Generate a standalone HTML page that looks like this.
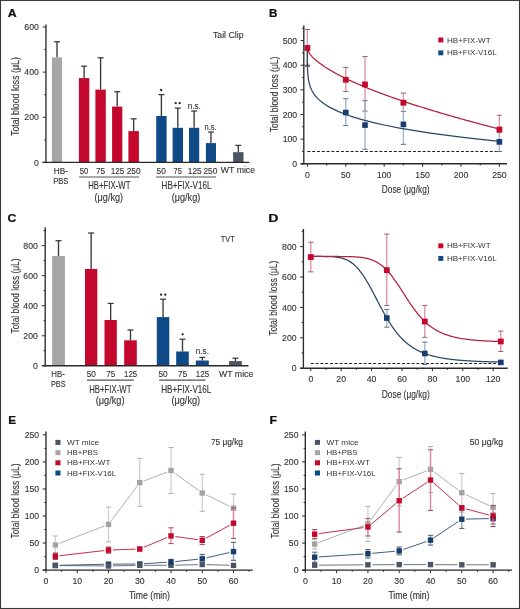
<!DOCTYPE html><html><head><meta charset="utf-8"><style>html,body{margin:0;padding:0;background:#fff;width:520px;height:609px;overflow:hidden;}svg{display:block;font-family:"Liberation Sans",sans-serif;will-change:transform;}</style></head><body>
<svg width="520" height="609" viewBox="0 0 520 609">
<rect x="0" y="0" width="520" height="609" fill="#fff"/>
<text x="7.8" y="17.2" font-size="11.03" fill="#111" font-weight="bold" stroke="#111" stroke-width="0.22" textLength="8.9" lengthAdjust="spacingAndGlyphs">A</text>
<line x1="57" y1="41.8" x2="57" y2="57.4" stroke="#383838" stroke-width="1.35" />
<line x1="54" y1="41.8" x2="60" y2="41.8" stroke="#383838" stroke-width="1.25" />
<rect x="51.9" y="57.4" width="10.2" height="105" fill="#a6a6a6" />
<line x1="84.1" y1="66.2" x2="84.1" y2="78.1" stroke="#383838" stroke-width="1.35" />
<line x1="81.1" y1="66.2" x2="87.1" y2="66.2" stroke="#383838" stroke-width="1.25" />
<rect x="78.9" y="78.1" width="10.4" height="84.3" fill="#c3072d" />
<line x1="100.6" y1="57.8" x2="100.6" y2="89.6" stroke="#383838" stroke-width="1.35" />
<line x1="97.6" y1="57.8" x2="103.6" y2="57.8" stroke="#383838" stroke-width="1.25" />
<rect x="95.4" y="89.6" width="10.4" height="72.8" fill="#c3072d" />
<line x1="117.2" y1="91.7" x2="117.2" y2="106.6" stroke="#383838" stroke-width="1.35" />
<line x1="114.2" y1="91.7" x2="120.2" y2="91.7" stroke="#383838" stroke-width="1.25" />
<rect x="112.1" y="106.6" width="10.2" height="55.8" fill="#c3072d" />
<line x1="133.65" y1="118.8" x2="133.65" y2="131.1" stroke="#383838" stroke-width="1.35" />
<line x1="130.65" y1="118.8" x2="136.65" y2="118.8" stroke="#383838" stroke-width="1.25" />
<rect x="128.4" y="131.1" width="10.5" height="31.3" fill="#c3072d" />
<line x1="161.4" y1="94.6" x2="161.4" y2="116" stroke="#383838" stroke-width="1.35" />
<line x1="158.4" y1="94.6" x2="164.4" y2="94.6" stroke="#383838" stroke-width="1.25" />
<rect x="156.2" y="116" width="10.4" height="46.4" fill="#0d4a87" />
<line x1="177.8" y1="108.1" x2="177.8" y2="127.8" stroke="#383838" stroke-width="1.35" />
<line x1="174.8" y1="108.1" x2="180.8" y2="108.1" stroke="#383838" stroke-width="1.25" />
<rect x="172.6" y="127.8" width="10.4" height="34.6" fill="#0d4a87" />
<line x1="194.1" y1="111" x2="194.1" y2="127.8" stroke="#383838" stroke-width="1.35" />
<line x1="191.1" y1="111" x2="197.1" y2="111" stroke="#383838" stroke-width="1.25" />
<rect x="189" y="127.8" width="10.2" height="34.6" fill="#0d4a87" />
<line x1="210.95" y1="132" x2="210.95" y2="143.1" stroke="#383838" stroke-width="1.35" />
<line x1="207.95" y1="132" x2="213.95" y2="132" stroke="#383838" stroke-width="1.25" />
<rect x="205.9" y="143.1" width="10.1" height="19.3" fill="#0d4a87" />
<line x1="238.3" y1="145.4" x2="238.3" y2="152.2" stroke="#383838" stroke-width="1.35" />
<line x1="235.3" y1="145.4" x2="241.3" y2="145.4" stroke="#383838" stroke-width="1.25" />
<rect x="233.1" y="152.2" width="10.4" height="10.2" fill="#4b5564" />
<line x1="45.95" y1="24.5" x2="45.95" y2="163" stroke="#2a2a2a" stroke-width="1.35" />
<line x1="42.65" y1="162.4" x2="45.95" y2="162.4" stroke="#2a2a2a" stroke-width="1" />
<text x="38.8" y="165.5" font-size="8.7" text-anchor="end" fill="#333" font-weight="normal" stroke="#333" stroke-width="0.12" >0</text>
<line x1="42.65" y1="117.26" x2="45.95" y2="117.26" stroke="#2a2a2a" stroke-width="1" />
<text x="38.8" y="120.36" font-size="8.7" text-anchor="end" fill="#333" font-weight="normal" stroke="#333" stroke-width="0.12" >200</text>
<line x1="42.65" y1="72.12" x2="45.95" y2="72.12" stroke="#2a2a2a" stroke-width="1" />
<text x="38.8" y="75.22" font-size="8.7" text-anchor="end" fill="#333" font-weight="normal" stroke="#333" stroke-width="0.12" >400</text>
<line x1="42.65" y1="26.98" x2="45.95" y2="26.98" stroke="#2a2a2a" stroke-width="1" />
<text x="38.8" y="30.08" font-size="8.7" text-anchor="end" fill="#333" font-weight="normal" stroke="#333" stroke-width="0.12" >600</text>
<line x1="44.25" y1="139.83" x2="45.95" y2="139.83" stroke="#2a2a2a" stroke-width="1" />
<line x1="44.25" y1="94.69" x2="45.95" y2="94.69" stroke="#2a2a2a" stroke-width="1" />
<line x1="44.25" y1="49.55" x2="45.95" y2="49.55" stroke="#2a2a2a" stroke-width="1" />
<line x1="42.4" y1="162.4" x2="249.4" y2="162.4" stroke="#2a2a2a" stroke-width="1.4" />
<circle cx="161.2" cy="90" r="1.15" fill="#222"/>
<circle cx="175.7" cy="103.2" r="1.15" fill="#222"/>
<circle cx="179.7" cy="103.2" r="1.15" fill="#222"/>
<text x="187.7" y="108.5" font-size="8.7" text-anchor="start" fill="#333" font-weight="normal" textLength="13.2" lengthAdjust="spacingAndGlyphs" stroke="#333" stroke-width="0.12" >n.s.</text>
<text x="204.5" y="129.8" font-size="8.7" text-anchor="start" fill="#333" font-weight="normal" textLength="12.1" lengthAdjust="spacingAndGlyphs" stroke="#333" stroke-width="0.12" >n.s.</text>
<text x="53.7" y="173.6" font-size="9" text-anchor="start" fill="#333" font-weight="normal" textLength="14.2" lengthAdjust="spacingAndGlyphs" stroke="#333" stroke-width="0.12" >HB-</text>
<text x="53.2" y="183.8" font-size="9" text-anchor="start" fill="#333" font-weight="normal" textLength="15.2" lengthAdjust="spacingAndGlyphs" stroke="#333" stroke-width="0.12" >PBS</text>
<text x="79.8" y="173.7" font-size="9.3" text-anchor="start" fill="#333" font-weight="normal" textLength="8.6" lengthAdjust="spacingAndGlyphs" stroke="#333" stroke-width="0.12" >50</text>
<text x="96" y="173.7" font-size="9.3" text-anchor="start" fill="#333" font-weight="normal" textLength="9.2" lengthAdjust="spacingAndGlyphs" stroke="#333" stroke-width="0.12" >75</text>
<text x="110.8" y="173.7" font-size="9.3" text-anchor="start" fill="#333" font-weight="normal" textLength="13.6" lengthAdjust="spacingAndGlyphs" stroke="#333" stroke-width="0.12" >125</text>
<text x="126.7" y="173.7" font-size="9.3" text-anchor="start" fill="#333" font-weight="normal" textLength="14" lengthAdjust="spacingAndGlyphs" stroke="#333" stroke-width="0.12" >250</text>
<text x="156.5" y="173.7" font-size="9.3" text-anchor="start" fill="#333" font-weight="normal" textLength="9.3" lengthAdjust="spacingAndGlyphs" stroke="#333" stroke-width="0.12" >50</text>
<text x="173.5" y="173.7" font-size="9.3" text-anchor="start" fill="#333" font-weight="normal" textLength="8.4" lengthAdjust="spacingAndGlyphs" stroke="#333" stroke-width="0.12" >75</text>
<text x="187.8" y="173.7" font-size="9.3" text-anchor="start" fill="#333" font-weight="normal" textLength="13.8" lengthAdjust="spacingAndGlyphs" stroke="#333" stroke-width="0.12" >125</text>
<text x="203.5" y="173.7" font-size="9.3" text-anchor="start" fill="#333" font-weight="normal" textLength="13.8" lengthAdjust="spacingAndGlyphs" stroke="#333" stroke-width="0.12" >250</text>
<line x1="79" y1="177" x2="139" y2="177" stroke="#555" stroke-width="1.2" />
<line x1="156" y1="177" x2="216.1" y2="177" stroke="#555" stroke-width="1.2" />
<text x="88.2" y="189.2" font-size="10.2" text-anchor="start" fill="#333" font-weight="normal" textLength="42.2" lengthAdjust="spacingAndGlyphs" stroke="#333" stroke-width="0.12" >HB+FIX-WT</text>
<text x="161.6" y="189.4" font-size="10.2" text-anchor="start" fill="#333" font-weight="normal" textLength="49.8" lengthAdjust="spacingAndGlyphs" stroke="#333" stroke-width="0.12" >HB+FIX-V16L</text>
<text x="94.6" y="201.4" font-size="10.2" text-anchor="start" fill="#333" font-weight="normal" textLength="28.5" lengthAdjust="spacingAndGlyphs" stroke="#333" stroke-width="0.12" >(μg/kg)</text>
<text x="171.7" y="201.4" font-size="10.2" text-anchor="start" fill="#333" font-weight="normal" textLength="28.6" lengthAdjust="spacingAndGlyphs" stroke="#333" stroke-width="0.12" >(μg/kg)</text>
<text x="220.8" y="172.9" font-size="8.7" text-anchor="start" fill="#333" font-weight="normal" textLength="34.3" lengthAdjust="spacingAndGlyphs" stroke="#333" stroke-width="0.12" >WT mice</text>
<text x="212.9" y="38.2" font-size="9.3" text-anchor="start" fill="#333" font-weight="normal" textLength="30.7" lengthAdjust="spacingAndGlyphs" stroke="#333" stroke-width="0.12" >Tail Clip</text>
<text transform="translate(19,96.6) rotate(-90)" x="0" y="0" font-size="10.2" text-anchor="middle" fill="#333" textLength="78.8" lengthAdjust="spacingAndGlyphs" stroke="#333" stroke-width="0.12">Total blood loss (μL)</text>
<text x="269" y="17.3" font-size="11.45" fill="#111" font-weight="bold" stroke="#111" stroke-width="0.22" textLength="8.4" lengthAdjust="spacingAndGlyphs">B</text>
<line x1="307.4" y1="151.5" x2="501" y2="151.5" stroke="#222" stroke-width="1" stroke-dasharray="3 1.8"/>
<line x1="307.4" y1="29.46" x2="307.4" y2="66.43" stroke="#dc8ea6" stroke-width="1.3" />
<line x1="304.8" y1="29.46" x2="310" y2="29.46" stroke="#8c6574" stroke-width="1.0" />
<line x1="304.8" y1="66.43" x2="310" y2="66.43" stroke="#8c6574" stroke-width="1.0" />
<line x1="345.8" y1="67.42" x2="345.8" y2="91.58" stroke="#dc8ea6" stroke-width="1.3" />
<line x1="343.2" y1="67.42" x2="348.4" y2="67.42" stroke="#8c6574" stroke-width="1.0" />
<line x1="343.2" y1="91.58" x2="348.4" y2="91.58" stroke="#8c6574" stroke-width="1.0" />
<line x1="365" y1="56.57" x2="365" y2="111.05" stroke="#dc8ea6" stroke-width="1.3" />
<line x1="362.4" y1="56.57" x2="367.6" y2="56.57" stroke="#8c6574" stroke-width="1.0" />
<line x1="362.4" y1="111.05" x2="367.6" y2="111.05" stroke="#8c6574" stroke-width="1.0" />
<line x1="403.4" y1="93.05" x2="403.4" y2="111.54" stroke="#dc8ea6" stroke-width="1.3" />
<line x1="400.8" y1="93.05" x2="406" y2="93.05" stroke="#8c6574" stroke-width="1.0" />
<line x1="400.8" y1="111.54" x2="406" y2="111.54" stroke="#8c6574" stroke-width="1.0" />
<line x1="499.4" y1="115.24" x2="499.4" y2="143.83" stroke="#dc8ea6" stroke-width="1.3" />
<line x1="496.8" y1="115.24" x2="502" y2="115.24" stroke="#8c6574" stroke-width="1.0" />
<line x1="496.8" y1="143.83" x2="502" y2="143.83" stroke="#8c6574" stroke-width="1.0" />
<line x1="345.8" y1="98.72" x2="345.8" y2="125.59" stroke="#9fb0c8" stroke-width="1.3" />
<line x1="343.2" y1="98.72" x2="348.4" y2="98.72" stroke="#5f7089" stroke-width="1.0" />
<line x1="343.2" y1="125.59" x2="348.4" y2="125.59" stroke="#5f7089" stroke-width="1.0" />
<line x1="365" y1="100.7" x2="365" y2="149.26" stroke="#9fb0c8" stroke-width="1.3" />
<line x1="362.4" y1="100.7" x2="367.6" y2="100.7" stroke="#5f7089" stroke-width="1.0" />
<line x1="362.4" y1="149.26" x2="367.6" y2="149.26" stroke="#5f7089" stroke-width="1.0" />
<line x1="403.4" y1="104.64" x2="403.4" y2="144.33" stroke="#9fb0c8" stroke-width="1.3" />
<line x1="400.8" y1="104.64" x2="406" y2="104.64" stroke="#5f7089" stroke-width="1.0" />
<line x1="400.8" y1="144.33" x2="406" y2="144.33" stroke="#5f7089" stroke-width="1.0" />
<line x1="499.4" y1="132.25" x2="499.4" y2="151.48" stroke="#9fb0c8" stroke-width="1.3" />
<line x1="496.8" y1="132.25" x2="502" y2="132.25" stroke="#5f7089" stroke-width="1.0" />
<line x1="496.8" y1="151.48" x2="502" y2="151.48" stroke="#5f7089" stroke-width="1.0" />
<line x1="307.4" y1="47.95" x2="307.4" y2="65.2" stroke="#59667a" stroke-width="1.2" />
<line x1="304.7" y1="65.2" x2="310.1" y2="65.2" stroke="#4a4f5a" stroke-width="1.1" />
<path d="M307.4,47.95 L308.17,50.89 L308.94,52.4 L309.7,53.61 L310.47,54.67 L311.24,55.62 L312.01,56.5 L312.78,57.32 L313.54,58.09 L314.31,58.82 L315.08,59.52 L315.85,60.19 L316.62,60.84 L317.38,61.46 L318.15,62.07 L318.92,62.65 L319.69,63.22 L320.46,63.78 L321.22,64.32 L321.99,64.85 L322.76,65.37 L323.53,65.9 L324.3,66.42 L325.06,66.94 L325.83,67.44 L326.6,67.94 L327.37,68.42 L328.14,68.9 L328.9,69.38 L329.67,69.84 L330.44,70.31 L331.21,70.76 L331.98,71.21 L332.74,71.65 L333.51,72.09 L334.28,72.52 L335.05,72.95 L335.82,73.37 L336.58,73.79 L337.35,74.2 L338.12,74.61 L338.89,75.02 L339.66,75.42 L340.42,75.82 L341.19,76.21 L341.96,76.6 L342.73,76.99 L343.5,77.37 L344.26,77.75 L345.03,78.13 L345.8,78.5 L346.57,78.88 L347.34,79.24 L348.1,79.61 L348.87,79.97 L349.64,80.33 L350.41,80.69 L351.18,81.04 L351.94,81.4 L352.71,81.75 L353.48,82.09 L354.25,82.44 L355.02,82.78 L355.78,83.12 L356.55,83.46 L357.32,83.8 L358.09,84.13 L358.86,84.47 L359.62,84.8 L360.39,85.13 L361.16,85.45 L361.93,85.78 L362.7,86.1 L363.46,86.42 L364.23,86.74 L365,87.06 L365.77,87.37 L366.54,87.69 L367.3,88 L368.07,88.31 L368.84,88.62 L369.61,88.93 L370.38,89.24 L371.14,89.54 L371.91,89.85 L372.68,90.15 L373.45,90.45 L374.22,90.75 L374.98,91.05 L375.75,91.34 L376.52,91.64 L377.29,91.93 L378.06,92.22 L378.82,92.52 L379.59,92.81 L380.36,93.09 L381.13,93.38 L381.9,93.67 L382.66,93.95 L383.43,94.24 L384.2,94.52 L384.97,94.8 L385.74,95.08 L386.5,95.36 L387.27,95.64 L388.04,95.92 L388.81,96.2 L389.58,96.47 L390.34,96.75 L391.11,97.02 L391.88,97.29 L392.65,97.56 L393.42,97.83 L394.18,98.1 L394.95,98.37 L395.72,98.64 L396.49,98.91 L397.26,99.17 L398.02,99.44 L398.79,99.7 L399.56,99.96 L400.33,100.23 L401.1,100.49 L401.86,100.75 L402.63,101.01 L403.4,101.27 L404.17,101.52 L404.94,101.78 L405.7,102.04 L406.47,102.29 L407.24,102.55 L408.01,102.8 L408.78,103.05 L409.54,103.31 L410.31,103.56 L411.08,103.81 L411.85,104.06 L412.62,104.31 L413.38,104.56 L414.15,104.81 L414.92,105.05 L415.69,105.3 L416.46,105.55 L417.22,105.79 L417.99,106.03 L418.76,106.28 L419.53,106.52 L420.3,106.76 L421.06,107.01 L421.83,107.25 L422.6,107.49 L423.37,107.73 L424.14,107.97 L424.9,108.21 L425.67,108.44 L426.44,108.68 L427.21,108.92 L427.98,109.15 L428.74,109.39 L429.51,109.62 L430.28,109.86 L431.05,110.09 L431.82,110.33 L432.58,110.56 L433.35,110.79 L434.12,111.02 L434.89,111.25 L435.66,111.48 L436.42,111.71 L437.19,111.94 L437.96,112.17 L438.73,112.4 L439.5,112.63 L440.26,112.85 L441.03,113.08 L441.8,113.31 L442.57,113.53 L443.34,113.76 L444.1,113.98 L444.87,114.2 L445.64,114.43 L446.41,114.65 L447.18,114.87 L447.94,115.1 L448.71,115.32 L449.48,115.54 L450.25,115.76 L451.02,115.98 L451.78,116.2 L452.55,116.42 L453.32,116.64 L454.09,116.86 L454.86,117.07 L455.62,117.29 L456.39,117.51 L457.16,117.72 L457.93,117.94 L458.7,118.16 L459.46,118.37 L460.23,118.59 L461,118.8 L461.77,119.01 L462.54,119.23 L463.3,119.44 L464.07,119.65 L464.84,119.86 L465.61,120.08 L466.38,120.29 L467.14,120.5 L467.91,120.71 L468.68,120.92 L469.45,121.13 L470.22,121.34 L470.98,121.55 L471.75,121.76 L472.52,121.96 L473.29,122.17 L474.06,122.38 L474.82,122.59 L475.59,122.79 L476.36,123 L477.13,123.2 L477.9,123.41 L478.66,123.62 L479.43,123.82 L480.2,124.02 L480.97,124.23 L481.74,124.43 L482.5,124.64 L483.27,124.84 L484.04,125.04 L484.81,125.24 L485.58,125.45 L486.34,125.65 L487.11,125.85 L487.88,126.05 L488.65,126.25 L489.42,126.45 L490.18,126.65 L490.95,126.85 L491.72,127.05 L492.49,127.25 L493.26,127.45 L494.02,127.64 L494.79,127.84 L495.56,128.04 L496.33,128.24 L497.1,128.43 L497.86,128.63 L498.63,128.83 L499.4,129.02" fill="none" stroke="#b3223d" stroke-width="1.25" />
<path d="M307.4,47.95 L307.41,59.15 L307.42,62.06 L307.45,64.27 L307.48,66.12 L307.55,68.97 L307.63,70.83 L307.78,73.42 L307.98,75.68 L308.17,77.4 L308.55,80.01 L308.94,82 L309.7,85 L310.47,87.29 L311.24,89.16 L312.01,90.74 L313.54,93.37 L315.08,95.51 L316.62,97.32 L318.92,99.63 L322.76,102.75 L326.6,105.4 L330.44,107.67 L338.12,111.42 L345.8,114.48 L353.48,117.1 L361.16,119.39 L368.84,121.44 L376.52,123.29 L384.2,124.99 L399.56,128.02 L414.92,130.67 L430.28,133.03 L445.64,135.18 L461,137.14 L476.36,138.95 L499.4,141.44" fill="none" stroke="#2c4664" stroke-width="1.25" />
<rect x="304.5" y="45.05" width="5.8" height="5.8" fill="#c3072d" />
<rect x="342.9" y="76.84" width="5.8" height="5.8" fill="#c3072d" />
<rect x="362.1" y="81.53" width="5.8" height="5.8" fill="#c3072d" />
<rect x="400.5" y="99.77" width="5.8" height="5.8" fill="#c3072d" />
<rect x="496.5" y="126.64" width="5.8" height="5.8" fill="#c3072d" />
<rect x="343" y="109.73" width="5.6" height="5.6" fill="#173d70" />
<rect x="362.2" y="122.3" width="5.6" height="5.6" fill="#173d70" />
<rect x="400.6" y="121.56" width="5.6" height="5.6" fill="#173d70" />
<rect x="496.6" y="139.06" width="5.6" height="5.6" fill="#173d70" />
<line x1="303.8" y1="25.6" x2="303.8" y2="164.4" stroke="#2a2a2a" stroke-width="1.35" />
<line x1="300.5" y1="163.8" x2="303.8" y2="163.8" stroke="#2a2a2a" stroke-width="1" />
<text x="297.2" y="166.9" font-size="8.7" text-anchor="end" fill="#333" font-weight="normal" stroke="#333" stroke-width="0.12" >0</text>
<line x1="300.5" y1="139.15" x2="303.8" y2="139.15" stroke="#2a2a2a" stroke-width="1" />
<text x="297.2" y="142.25" font-size="8.7" text-anchor="end" fill="#333" font-weight="normal" stroke="#333" stroke-width="0.12" >100</text>
<line x1="300.5" y1="114.5" x2="303.8" y2="114.5" stroke="#2a2a2a" stroke-width="1" />
<text x="297.2" y="117.6" font-size="8.7" text-anchor="end" fill="#333" font-weight="normal" stroke="#333" stroke-width="0.12" >200</text>
<line x1="300.5" y1="89.85" x2="303.8" y2="89.85" stroke="#2a2a2a" stroke-width="1" />
<text x="297.2" y="92.95" font-size="8.7" text-anchor="end" fill="#333" font-weight="normal" stroke="#333" stroke-width="0.12" >300</text>
<line x1="300.5" y1="65.2" x2="303.8" y2="65.2" stroke="#2a2a2a" stroke-width="1" />
<text x="297.2" y="68.3" font-size="8.7" text-anchor="end" fill="#333" font-weight="normal" stroke="#333" stroke-width="0.12" >400</text>
<line x1="300.5" y1="40.55" x2="303.8" y2="40.55" stroke="#2a2a2a" stroke-width="1" />
<text x="297.2" y="43.65" font-size="8.7" text-anchor="end" fill="#333" font-weight="normal" stroke="#333" stroke-width="0.12" >500</text>
<line x1="302.1" y1="151.48" x2="303.8" y2="151.48" stroke="#2a2a2a" stroke-width="1" />
<line x1="302.1" y1="126.83" x2="303.8" y2="126.83" stroke="#2a2a2a" stroke-width="1" />
<line x1="302.1" y1="102.18" x2="303.8" y2="102.18" stroke="#2a2a2a" stroke-width="1" />
<line x1="302.1" y1="77.53" x2="303.8" y2="77.53" stroke="#2a2a2a" stroke-width="1" />
<line x1="302.1" y1="52.88" x2="303.8" y2="52.88" stroke="#2a2a2a" stroke-width="1" />
<line x1="302.1" y1="28.23" x2="303.8" y2="28.23" stroke="#2a2a2a" stroke-width="1" />
<line x1="300.6" y1="163.8" x2="507" y2="163.8" stroke="#2a2a2a" stroke-width="1.4" />
<line x1="307.4" y1="163.8" x2="307.4" y2="166.8" stroke="#2a2a2a" stroke-width="1" />
<text x="307.4" y="177.8" font-size="8.7" text-anchor="middle" fill="#333" font-weight="normal" stroke="#333" stroke-width="0.12" >0</text>
<line x1="345.8" y1="163.8" x2="345.8" y2="166.8" stroke="#2a2a2a" stroke-width="1" />
<text x="345.8" y="177.8" font-size="8.7" text-anchor="middle" fill="#333" font-weight="normal" stroke="#333" stroke-width="0.12" >50</text>
<line x1="384.2" y1="163.8" x2="384.2" y2="166.8" stroke="#2a2a2a" stroke-width="1" />
<text x="384.2" y="177.8" font-size="8.7" text-anchor="middle" fill="#333" font-weight="normal" stroke="#333" stroke-width="0.12" >100</text>
<line x1="422.6" y1="163.8" x2="422.6" y2="166.8" stroke="#2a2a2a" stroke-width="1" />
<text x="422.6" y="177.8" font-size="8.7" text-anchor="middle" fill="#333" font-weight="normal" stroke="#333" stroke-width="0.12" >150</text>
<line x1="461" y1="163.8" x2="461" y2="166.8" stroke="#2a2a2a" stroke-width="1" />
<text x="461" y="177.8" font-size="8.7" text-anchor="middle" fill="#333" font-weight="normal" stroke="#333" stroke-width="0.12" >200</text>
<line x1="499.4" y1="163.8" x2="499.4" y2="166.8" stroke="#2a2a2a" stroke-width="1" />
<text x="499.4" y="177.8" font-size="8.7" text-anchor="middle" fill="#333" font-weight="normal" stroke="#333" stroke-width="0.12" >250</text>
<line x1="326.6" y1="163.8" x2="326.6" y2="165.5" stroke="#2a2a2a" stroke-width="1" />
<line x1="365" y1="163.8" x2="365" y2="165.5" stroke="#2a2a2a" stroke-width="1" />
<line x1="403.4" y1="163.8" x2="403.4" y2="165.5" stroke="#2a2a2a" stroke-width="1" />
<line x1="441.8" y1="163.8" x2="441.8" y2="165.5" stroke="#2a2a2a" stroke-width="1" />
<line x1="480.2" y1="163.8" x2="480.2" y2="165.5" stroke="#2a2a2a" stroke-width="1" />
<text x="381.8" y="192.6" font-size="10.5" text-anchor="start" fill="#333" font-weight="normal" textLength="47.8" lengthAdjust="spacingAndGlyphs" stroke="#333" stroke-width="0.12" >Dose (μg/kg)</text>
<text transform="translate(277.5,94.5) rotate(-90)" x="0" y="0" font-size="10.2" text-anchor="middle" fill="#333" textLength="75.5" lengthAdjust="spacingAndGlyphs" stroke="#333" stroke-width="0.12">Total blood loss (μL)</text>
<rect x="438.3" y="37.5" width="5" height="4.9" fill="#c3072d" />
<text x="447" y="42.6" font-size="7.7" text-anchor="start" fill="#333" font-weight="normal" textLength="43.6" lengthAdjust="spacingAndGlyphs" >HB+FIX-WT</text>
<rect x="438.3" y="50.4" width="5" height="4.9" fill="#0d4a87" />
<text x="447" y="55.3" font-size="7.7" text-anchor="start" fill="#333" font-weight="normal" textLength="49.6" lengthAdjust="spacingAndGlyphs" >HB+FIX-V16L</text>
<text x="7.6" y="222.1" font-size="11.17" fill="#111" font-weight="bold" stroke="#111" stroke-width="0.22" textLength="8.8" lengthAdjust="spacingAndGlyphs">C</text>
<line x1="58.5" y1="240.7" x2="58.5" y2="256" stroke="#383838" stroke-width="1.35" />
<line x1="55.5" y1="240.7" x2="61.5" y2="240.7" stroke="#383838" stroke-width="1.25" />
<rect x="52.1" y="256" width="12.8" height="109.8" fill="#a6a6a6" />
<line x1="91.15" y1="233" x2="91.15" y2="269" stroke="#383838" stroke-width="1.35" />
<line x1="88.15" y1="233" x2="94.15" y2="233" stroke="#383838" stroke-width="1.25" />
<rect x="85" y="269" width="12.3" height="96.8" fill="#c3072d" />
<line x1="110.65" y1="303.4" x2="110.65" y2="320" stroke="#383838" stroke-width="1.35" />
<line x1="107.65" y1="303.4" x2="113.65" y2="303.4" stroke="#383838" stroke-width="1.25" />
<rect x="104.5" y="320" width="12.3" height="45.8" fill="#c3072d" />
<line x1="130.5" y1="330" x2="130.5" y2="340.3" stroke="#383838" stroke-width="1.35" />
<line x1="127.5" y1="330" x2="133.5" y2="330" stroke="#383838" stroke-width="1.25" />
<rect x="124.2" y="340.3" width="12.6" height="25.5" fill="#c3072d" />
<line x1="163.05" y1="299.2" x2="163.05" y2="317.1" stroke="#383838" stroke-width="1.35" />
<line x1="160.05" y1="299.2" x2="166.05" y2="299.2" stroke="#383838" stroke-width="1.25" />
<rect x="156.8" y="317.1" width="12.5" height="48.7" fill="#0d4a87" />
<line x1="182.5" y1="339.2" x2="182.5" y2="351.5" stroke="#383838" stroke-width="1.35" />
<line x1="179.5" y1="339.2" x2="185.5" y2="339.2" stroke="#383838" stroke-width="1.25" />
<rect x="176.2" y="351.5" width="12.6" height="14.3" fill="#0d4a87" />
<line x1="202.3" y1="357.4" x2="202.3" y2="360.5" stroke="#383838" stroke-width="1.35" />
<line x1="199.3" y1="357.4" x2="205.3" y2="357.4" stroke="#383838" stroke-width="1.25" />
<rect x="195.8" y="360.5" width="13" height="5.3" fill="#0d4a87" />
<line x1="235.45" y1="358.2" x2="235.45" y2="361.1" stroke="#383838" stroke-width="1.35" />
<line x1="232.45" y1="358.2" x2="238.45" y2="358.2" stroke="#383838" stroke-width="1.25" />
<rect x="229.1" y="361.1" width="12.7" height="4.7" fill="#4b5564" />
<line x1="45.2" y1="227.2" x2="45.2" y2="366.4" stroke="#2a2a2a" stroke-width="1.35" />
<line x1="41.9" y1="365.8" x2="45.2" y2="365.8" stroke="#2a2a2a" stroke-width="1" />
<text x="37.8" y="368.9" font-size="8.7" text-anchor="end" fill="#333" font-weight="normal" stroke="#333" stroke-width="0.12" >0</text>
<line x1="41.9" y1="335.75" x2="45.2" y2="335.75" stroke="#2a2a2a" stroke-width="1" />
<text x="37.8" y="338.85" font-size="8.7" text-anchor="end" fill="#333" font-weight="normal" stroke="#333" stroke-width="0.12" >200</text>
<line x1="41.9" y1="305.7" x2="45.2" y2="305.7" stroke="#2a2a2a" stroke-width="1" />
<text x="37.8" y="308.8" font-size="8.7" text-anchor="end" fill="#333" font-weight="normal" stroke="#333" stroke-width="0.12" >400</text>
<line x1="41.9" y1="275.65" x2="45.2" y2="275.65" stroke="#2a2a2a" stroke-width="1" />
<text x="37.8" y="278.75" font-size="8.7" text-anchor="end" fill="#333" font-weight="normal" stroke="#333" stroke-width="0.12" >600</text>
<line x1="41.9" y1="245.6" x2="45.2" y2="245.6" stroke="#2a2a2a" stroke-width="1" />
<text x="37.8" y="248.7" font-size="8.7" text-anchor="end" fill="#333" font-weight="normal" stroke="#333" stroke-width="0.12" >800</text>
<line x1="43.5" y1="350.78" x2="45.2" y2="350.78" stroke="#2a2a2a" stroke-width="1" />
<line x1="43.5" y1="320.73" x2="45.2" y2="320.73" stroke="#2a2a2a" stroke-width="1" />
<line x1="43.5" y1="290.68" x2="45.2" y2="290.68" stroke="#2a2a2a" stroke-width="1" />
<line x1="43.5" y1="260.62" x2="45.2" y2="260.62" stroke="#2a2a2a" stroke-width="1" />
<line x1="43.5" y1="230.58" x2="45.2" y2="230.58" stroke="#2a2a2a" stroke-width="1" />
<line x1="42.4" y1="365.8" x2="248.4" y2="365.8" stroke="#2a2a2a" stroke-width="1.4" />
<circle cx="161.1" cy="294.7" r="1.15" fill="#222"/>
<circle cx="165.3" cy="294.7" r="1.15" fill="#222"/>
<circle cx="182.6" cy="334.3" r="1.15" fill="#222"/>
<text x="195.8" y="354.2" font-size="8.7" text-anchor="start" fill="#333" font-weight="normal" textLength="13.1" lengthAdjust="spacingAndGlyphs" stroke="#333" stroke-width="0.12" >n.s.</text>
<text x="51.3" y="376.7" font-size="9" text-anchor="start" fill="#333" font-weight="normal" textLength="13.6" lengthAdjust="spacingAndGlyphs" stroke="#333" stroke-width="0.12" >HB-</text>
<text x="51" y="387.1" font-size="9" text-anchor="start" fill="#333" font-weight="normal" textLength="14.6" lengthAdjust="spacingAndGlyphs" stroke="#333" stroke-width="0.12" >PBS</text>
<text x="86.7" y="376.6" font-size="9.3" text-anchor="start" fill="#333" font-weight="normal" textLength="9.2" lengthAdjust="spacingAndGlyphs" stroke="#333" stroke-width="0.12" >50</text>
<text x="106.2" y="376.6" font-size="9.3" text-anchor="start" fill="#333" font-weight="normal" textLength="9.1" lengthAdjust="spacingAndGlyphs" stroke="#333" stroke-width="0.12" >75</text>
<text x="124.1" y="376.6" font-size="9.3" text-anchor="start" fill="#333" font-weight="normal" textLength="13.1" lengthAdjust="spacingAndGlyphs" stroke="#333" stroke-width="0.12" >125</text>
<text x="158.5" y="376.6" font-size="9.3" text-anchor="start" fill="#333" font-weight="normal" textLength="9.2" lengthAdjust="spacingAndGlyphs" stroke="#333" stroke-width="0.12" >50</text>
<text x="177.7" y="376.6" font-size="9.3" text-anchor="start" fill="#333" font-weight="normal" textLength="9.5" lengthAdjust="spacingAndGlyphs" stroke="#333" stroke-width="0.12" >75</text>
<text x="195.8" y="376.6" font-size="9.3" text-anchor="start" fill="#333" font-weight="normal" textLength="13.4" lengthAdjust="spacingAndGlyphs" stroke="#333" stroke-width="0.12" >125</text>
<line x1="87" y1="380.2" x2="133.8" y2="380.2" stroke="#555" stroke-width="1.2" />
<line x1="159.2" y1="380.2" x2="205.4" y2="380.2" stroke="#555" stroke-width="1.2" />
<text x="89.2" y="392.5" font-size="10.2" text-anchor="start" fill="#333" font-weight="normal" textLength="42.3" lengthAdjust="spacingAndGlyphs" stroke="#333" stroke-width="0.12" >HB+FIX-WT</text>
<text x="161.3" y="392.5" font-size="10.2" text-anchor="start" fill="#333" font-weight="normal" textLength="50" lengthAdjust="spacingAndGlyphs" stroke="#333" stroke-width="0.12" >HB+FIX-V16L</text>
<text x="95.7" y="404.3" font-size="10.2" text-anchor="start" fill="#333" font-weight="normal" textLength="28.8" lengthAdjust="spacingAndGlyphs" stroke="#333" stroke-width="0.12" >(μg/kg)</text>
<text x="171.4" y="404.3" font-size="10.2" text-anchor="start" fill="#333" font-weight="normal" textLength="28.8" lengthAdjust="spacingAndGlyphs" stroke="#333" stroke-width="0.12" >(μg/kg)</text>
<text x="219" y="376.7" font-size="8.7" text-anchor="start" fill="#333" font-weight="normal" textLength="34.3" lengthAdjust="spacingAndGlyphs" stroke="#333" stroke-width="0.12" >WT mice</text>
<text x="220.8" y="242.1" font-size="9.3" text-anchor="start" fill="#333" font-weight="normal" textLength="14" lengthAdjust="spacingAndGlyphs" stroke="#333" stroke-width="0.12" >TVT</text>
<text transform="translate(18.8,296) rotate(-90)" x="0" y="0" font-size="10.2" text-anchor="middle" fill="#333" textLength="75" lengthAdjust="spacingAndGlyphs" stroke="#333" stroke-width="0.12">Total blood loss (μL)</text>
<text x="268.2" y="222.3" font-size="11.45" fill="#111" font-weight="bold" stroke="#111" stroke-width="0.22" textLength="10.2" lengthAdjust="spacingAndGlyphs">D</text>
<line x1="310.8" y1="363.5" x2="499.2" y2="363.5" stroke="#222" stroke-width="1" stroke-dasharray="3 1.8"/>
<line x1="310.8" y1="242.19" x2="310.8" y2="271.83" stroke="#dc8ea6" stroke-width="1.3" />
<line x1="308.2" y1="242.19" x2="313.4" y2="242.19" stroke="#8c6574" stroke-width="1.0" />
<line x1="308.2" y1="271.83" x2="313.4" y2="271.83" stroke="#8c6574" stroke-width="1.0" />
<line x1="386.8" y1="234.14" x2="386.8" y2="305.42" stroke="#dc8ea6" stroke-width="1.3" />
<line x1="384.2" y1="234.14" x2="389.4" y2="234.14" stroke="#8c6574" stroke-width="1.0" />
<line x1="384.2" y1="305.42" x2="389.4" y2="305.42" stroke="#8c6574" stroke-width="1.0" />
<line x1="424.8" y1="305.42" x2="424.8" y2="337.34" stroke="#dc8ea6" stroke-width="1.3" />
<line x1="422.2" y1="305.42" x2="427.4" y2="305.42" stroke="#8c6574" stroke-width="1.0" />
<line x1="422.2" y1="337.34" x2="427.4" y2="337.34" stroke="#8c6574" stroke-width="1.0" />
<line x1="500.8" y1="331.11" x2="500.8" y2="351.48" stroke="#dc8ea6" stroke-width="1.3" />
<line x1="498.2" y1="331.11" x2="503.4" y2="331.11" stroke="#8c6574" stroke-width="1.0" />
<line x1="498.2" y1="351.48" x2="503.4" y2="351.48" stroke="#8c6574" stroke-width="1.0" />
<line x1="386.8" y1="309.38" x2="386.8" y2="327.16" stroke="#9fb0c8" stroke-width="1.3" />
<line x1="384.2" y1="309.38" x2="389.4" y2="309.38" stroke="#5f7089" stroke-width="1.0" />
<line x1="384.2" y1="327.16" x2="389.4" y2="327.16" stroke="#5f7089" stroke-width="1.0" />
<line x1="424.8" y1="342.06" x2="424.8" y2="364.55" stroke="#9fb0c8" stroke-width="1.3" />
<line x1="422.2" y1="342.06" x2="427.4" y2="342.06" stroke="#5f7089" stroke-width="1.0" />
<line x1="422.2" y1="364.55" x2="427.4" y2="364.55" stroke="#5f7089" stroke-width="1.0" />
<line x1="500.8" y1="361.21" x2="500.8" y2="363.64" stroke="#9fb0c8" stroke-width="1.3" />
<line x1="498.2" y1="361.21" x2="503.4" y2="361.21" stroke="#5f7089" stroke-width="1.0" />
<line x1="498.2" y1="363.64" x2="503.4" y2="363.64" stroke="#5f7089" stroke-width="1.0" />
<path d="M310.8,256.48 L311.56,256.48 L312.32,256.48 L313.08,256.48 L313.84,256.48 L314.6,256.48 L315.36,256.48 L316.12,256.48 L316.88,256.48 L317.64,256.48 L318.4,256.48 L319.16,256.48 L319.92,256.48 L320.68,256.49 L321.44,256.49 L322.2,256.49 L322.96,256.5 L323.72,256.5 L324.48,256.51 L325.24,256.52 L326,256.53 L326.76,256.54 L327.52,256.56 L328.28,256.58 L329.04,256.6 L329.8,256.63 L330.56,256.66 L331.32,256.7 L332.08,256.74 L332.84,256.79 L333.6,256.85 L334.36,256.91 L335.12,256.99 L335.88,257.07 L336.64,257.16 L337.4,257.27 L338.16,257.38 L338.92,257.51 L339.68,257.66 L340.44,257.82 L341.2,258 L341.96,258.19 L342.72,258.41 L343.48,258.64 L344.24,258.9 L345,259.17 L345.76,259.48 L346.52,259.8 L347.28,260.16 L348.04,260.54 L348.8,260.95 L349.56,261.39 L350.32,261.86 L351.08,262.37 L351.84,262.91 L352.6,263.48 L353.36,264.09 L354.12,264.74 L354.88,265.42 L355.64,266.14 L356.4,266.9 L357.16,267.7 L357.92,268.53 L358.68,269.41 L359.44,270.32 L360.2,271.28 L360.96,272.27 L361.72,273.3 L362.48,274.37 L363.24,275.48 L364,276.62 L364.76,277.8 L365.52,279.01 L366.28,280.25 L367.04,281.52 L367.8,282.82 L368.56,284.15 L369.32,285.5 L370.08,286.87 L370.84,288.26 L371.6,289.67 L372.36,291.1 L373.12,292.54 L373.88,293.99 L374.64,295.45 L375.4,296.91 L376.16,298.38 L376.92,299.85 L377.68,301.31 L378.44,302.77 L379.2,304.23 L379.96,305.68 L380.72,307.12 L381.48,308.55 L382.24,309.96 L383,311.36 L383.76,312.74 L384.52,314.1 L385.28,315.45 L386.04,316.77 L386.8,318.07 L387.56,319.35 L388.32,320.6 L389.08,321.83 L389.84,323.04 L390.6,324.21 L391.36,325.37 L392.12,326.49 L392.88,327.59 L393.64,328.66 L394.4,329.71 L395.16,330.72 L395.92,331.72 L396.68,332.68 L397.44,333.62 L398.2,334.53 L398.96,335.42 L399.72,336.28 L400.48,337.11 L401.24,337.92 L402,338.71 L402.76,339.47 L403.52,340.21 L404.28,340.92 L405.04,341.62 L405.8,342.29 L406.56,342.94 L407.32,343.57 L408.08,344.17 L408.84,344.76 L409.6,345.33 L410.36,345.88 L411.12,346.42 L411.88,346.93 L412.64,347.43 L413.4,347.91 L414.16,348.38 L414.92,348.83 L415.68,349.26 L416.44,349.68 L417.2,350.09 L417.96,350.48 L418.72,350.86 L419.48,351.23 L420.24,351.58 L421,351.93 L421.76,352.26 L422.52,352.58 L423.28,352.89 L424.04,353.18 L424.8,353.47 L425.56,353.75 L426.32,354.02 L427.08,354.28 L427.84,354.54 L428.6,354.78 L429.36,355.02 L430.12,355.24 L430.88,355.47 L431.64,355.68 L432.4,355.89 L433.16,356.08 L433.92,356.28 L434.68,356.46 L435.44,356.65 L436.2,356.82 L436.96,356.99 L437.72,357.15 L438.48,357.31 L439.24,357.47 L440,357.61 L440.76,357.76 L441.52,357.9 L442.28,358.03 L443.04,358.16 L443.8,358.29 L444.56,358.41 L445.32,358.53 L446.08,358.65 L446.84,358.76 L447.6,358.87 L448.36,358.97 L449.12,359.07 L449.88,359.17 L450.64,359.27 L451.4,359.36 L452.16,359.45 L452.92,359.54 L453.68,359.62 L454.44,359.71 L455.2,359.79 L455.96,359.86 L456.72,359.94 L457.48,360.01 L458.24,360.08 L459,360.15 L459.76,360.22 L460.52,360.28 L461.28,360.35 L462.04,360.41 L462.8,360.47 L463.56,360.52 L464.32,360.58 L465.08,360.63 L465.84,360.69 L466.6,360.74 L467.36,360.79 L468.12,360.84 L468.88,360.89 L469.64,360.93 L470.4,360.98 L471.16,361.02 L471.92,361.06 L472.68,361.1 L473.44,361.14 L474.2,361.18 L474.96,361.22 L475.72,361.26 L476.48,361.29 L477.24,361.33 L478,361.36 L478.76,361.4 L479.52,361.43 L480.28,361.46 L481.04,361.49 L481.8,361.52 L482.56,361.55 L483.32,361.58 L484.08,361.61 L484.84,361.63 L485.6,361.66 L486.36,361.69 L487.12,361.71 L487.88,361.74 L488.64,361.76 L489.4,361.78 L490.16,361.81 L490.92,361.83 L491.68,361.85 L492.44,361.87 L493.2,361.89 L493.96,361.91 L494.72,361.93 L495.48,361.95 L496.24,361.97 L497,361.99 L497.76,362 L498.52,362.02 L499.28,362.04 L500.04,362.06 L500.8,362.07" fill="none" stroke="#2c4664" stroke-width="1.25" />
<path d="M310.8,256.48 L311.56,256.48 L312.32,256.48 L313.08,256.48 L313.84,256.48 L314.6,256.48 L315.36,256.48 L316.12,256.48 L316.88,256.48 L317.64,256.48 L318.4,256.48 L319.16,256.48 L319.92,256.48 L320.68,256.48 L321.44,256.48 L322.2,256.48 L322.96,256.48 L323.72,256.48 L324.48,256.48 L325.24,256.48 L326,256.48 L326.76,256.48 L327.52,256.48 L328.28,256.48 L329.04,256.48 L329.8,256.48 L330.56,256.48 L331.32,256.48 L332.08,256.48 L332.84,256.48 L333.6,256.48 L334.36,256.48 L335.12,256.49 L335.88,256.49 L336.64,256.49 L337.4,256.49 L338.16,256.49 L338.92,256.5 L339.68,256.5 L340.44,256.5 L341.2,256.51 L341.96,256.51 L342.72,256.52 L343.48,256.53 L344.24,256.54 L345,256.55 L345.76,256.56 L346.52,256.57 L347.28,256.58 L348.04,256.6 L348.8,256.62 L349.56,256.64 L350.32,256.66 L351.08,256.68 L351.84,256.71 L352.6,256.74 L353.36,256.78 L354.12,256.81 L354.88,256.86 L355.64,256.9 L356.4,256.95 L357.16,257.01 L357.92,257.07 L358.68,257.14 L359.44,257.22 L360.2,257.3 L360.96,257.39 L361.72,257.49 L362.48,257.6 L363.24,257.72 L364,257.84 L364.76,257.98 L365.52,258.13 L366.28,258.29 L367.04,258.47 L367.8,258.65 L368.56,258.86 L369.32,259.08 L370.08,259.31 L370.84,259.56 L371.6,259.83 L372.36,260.12 L373.12,260.42 L373.88,260.75 L374.64,261.1 L375.4,261.47 L376.16,261.86 L376.92,262.28 L377.68,262.72 L378.44,263.19 L379.2,263.69 L379.96,264.21 L380.72,264.75 L381.48,265.33 L382.24,265.93 L383,266.57 L383.76,267.23 L384.52,267.92 L385.28,268.64 L386.04,269.39 L386.8,270.17 L387.56,270.98 L388.32,271.82 L389.08,272.69 L389.84,273.59 L390.6,274.51 L391.36,275.46 L392.12,276.44 L392.88,277.44 L393.64,278.46 L394.4,279.51 L395.16,280.58 L395.92,281.67 L396.68,282.78 L397.44,283.9 L398.2,285.04 L398.96,286.19 L399.72,287.35 L400.48,288.53 L401.24,289.7 L402,290.89 L402.76,292.08 L403.52,293.27 L404.28,294.46 L405.04,295.65 L405.8,296.83 L406.56,298.01 L407.32,299.19 L408.08,300.35 L408.84,301.5 L409.6,302.64 L410.36,303.77 L411.12,304.89 L411.88,305.98 L412.64,307.06 L413.4,308.13 L414.16,309.17 L414.92,310.2 L415.68,311.2 L416.44,312.18 L417.2,313.15 L417.96,314.09 L418.72,315.01 L419.48,315.9 L420.24,316.77 L421,317.62 L421.76,318.45 L422.52,319.26 L423.28,320.04 L424.04,320.8 L424.8,321.54 L425.56,322.25 L426.32,322.95 L427.08,323.62 L427.84,324.27 L428.6,324.9 L429.36,325.51 L430.12,326.1 L430.88,326.67 L431.64,327.22 L432.4,327.76 L433.16,328.27 L433.92,328.77 L434.68,329.25 L435.44,329.71 L436.2,330.16 L436.96,330.59 L437.72,331 L438.48,331.4 L439.24,331.79 L440,332.16 L440.76,332.52 L441.52,332.86 L442.28,333.2 L443.04,333.52 L443.8,333.83 L444.56,334.13 L445.32,334.41 L446.08,334.69 L446.84,334.96 L447.6,335.21 L448.36,335.46 L449.12,335.7 L449.88,335.93 L450.64,336.15 L451.4,336.36 L452.16,336.56 L452.92,336.76 L453.68,336.95 L454.44,337.13 L455.2,337.31 L455.96,337.48 L456.72,337.64 L457.48,337.8 L458.24,337.95 L459,338.1 L459.76,338.24 L460.52,338.37 L461.28,338.51 L462.04,338.63 L462.8,338.75 L463.56,338.87 L464.32,338.98 L465.08,339.09 L465.84,339.2 L466.6,339.3 L467.36,339.4 L468.12,339.49 L468.88,339.58 L469.64,339.67 L470.4,339.75 L471.16,339.84 L471.92,339.91 L472.68,339.99 L473.44,340.06 L474.2,340.13 L474.96,340.2 L475.72,340.27 L476.48,340.33 L477.24,340.39 L478,340.45 L478.76,340.51 L479.52,340.57 L480.28,340.62 L481.04,340.67 L481.8,340.72 L482.56,340.77 L483.32,340.82 L484.08,340.86 L484.84,340.91 L485.6,340.95 L486.36,340.99 L487.12,341.03 L487.88,341.07 L488.64,341.11 L489.4,341.14 L490.16,341.18 L490.92,341.21 L491.68,341.24 L492.44,341.27 L493.2,341.3 L493.96,341.33 L494.72,341.36 L495.48,341.39 L496.24,341.42 L497,341.44 L497.76,341.47 L498.52,341.49 L499.28,341.52 L500.04,341.54 L500.8,341.56" fill="none" stroke="#b3223d" stroke-width="1.25" />
<rect x="307.9" y="254.19" width="5.8" height="5.8" fill="#c3072d" />
<rect x="383.9" y="267.26" width="5.8" height="5.8" fill="#c3072d" />
<rect x="421.9" y="318.64" width="5.8" height="5.8" fill="#c3072d" />
<rect x="497.9" y="338.55" width="5.8" height="5.8" fill="#c3072d" />
<rect x="384" y="315.24" width="5.6" height="5.6" fill="#173d70" />
<rect x="422" y="350.66" width="5.6" height="5.6" fill="#173d70" />
<rect x="498" y="359.62" width="5.6" height="5.6" fill="#173d70" />
<line x1="303.4" y1="228.9" x2="303.4" y2="368.8" stroke="#2a2a2a" stroke-width="1.35" />
<line x1="300.1" y1="368.2" x2="303.4" y2="368.2" stroke="#2a2a2a" stroke-width="1" />
<text x="296.6" y="371.3" font-size="8.7" text-anchor="end" fill="#333" font-weight="normal" stroke="#333" stroke-width="0.12" >0</text>
<line x1="300.1" y1="337.8" x2="303.4" y2="337.8" stroke="#2a2a2a" stroke-width="1" />
<text x="296.6" y="340.9" font-size="8.7" text-anchor="end" fill="#333" font-weight="normal" stroke="#333" stroke-width="0.12" >200</text>
<line x1="300.1" y1="307.4" x2="303.4" y2="307.4" stroke="#2a2a2a" stroke-width="1" />
<text x="296.6" y="310.5" font-size="8.7" text-anchor="end" fill="#333" font-weight="normal" stroke="#333" stroke-width="0.12" >400</text>
<line x1="300.1" y1="277" x2="303.4" y2="277" stroke="#2a2a2a" stroke-width="1" />
<text x="296.6" y="280.1" font-size="8.7" text-anchor="end" fill="#333" font-weight="normal" stroke="#333" stroke-width="0.12" >600</text>
<line x1="300.1" y1="246.6" x2="303.4" y2="246.6" stroke="#2a2a2a" stroke-width="1" />
<text x="296.6" y="249.7" font-size="8.7" text-anchor="end" fill="#333" font-weight="normal" stroke="#333" stroke-width="0.12" >800</text>
<line x1="301.7" y1="353" x2="303.4" y2="353" stroke="#2a2a2a" stroke-width="1" />
<line x1="301.7" y1="322.6" x2="303.4" y2="322.6" stroke="#2a2a2a" stroke-width="1" />
<line x1="301.7" y1="292.2" x2="303.4" y2="292.2" stroke="#2a2a2a" stroke-width="1" />
<line x1="301.7" y1="261.8" x2="303.4" y2="261.8" stroke="#2a2a2a" stroke-width="1" />
<line x1="301.7" y1="231.4" x2="303.4" y2="231.4" stroke="#2a2a2a" stroke-width="1" />
<line x1="300.2" y1="368.2" x2="507.7" y2="368.2" stroke="#2a2a2a" stroke-width="1.4" />
<line x1="310.8" y1="368.2" x2="310.8" y2="371.2" stroke="#2a2a2a" stroke-width="1" />
<text x="310.8" y="382.3" font-size="8.7" text-anchor="middle" fill="#333" font-weight="normal" stroke="#333" stroke-width="0.12" >0</text>
<line x1="341.2" y1="368.2" x2="341.2" y2="371.2" stroke="#2a2a2a" stroke-width="1" />
<text x="341.2" y="382.3" font-size="8.7" text-anchor="middle" fill="#333" font-weight="normal" stroke="#333" stroke-width="0.12" >20</text>
<line x1="371.6" y1="368.2" x2="371.6" y2="371.2" stroke="#2a2a2a" stroke-width="1" />
<text x="371.6" y="382.3" font-size="8.7" text-anchor="middle" fill="#333" font-weight="normal" stroke="#333" stroke-width="0.12" >40</text>
<line x1="402" y1="368.2" x2="402" y2="371.2" stroke="#2a2a2a" stroke-width="1" />
<text x="402" y="382.3" font-size="8.7" text-anchor="middle" fill="#333" font-weight="normal" stroke="#333" stroke-width="0.12" >60</text>
<line x1="432.4" y1="368.2" x2="432.4" y2="371.2" stroke="#2a2a2a" stroke-width="1" />
<text x="432.4" y="382.3" font-size="8.7" text-anchor="middle" fill="#333" font-weight="normal" stroke="#333" stroke-width="0.12" >80</text>
<line x1="462.8" y1="368.2" x2="462.8" y2="371.2" stroke="#2a2a2a" stroke-width="1" />
<text x="462.8" y="382.3" font-size="8.7" text-anchor="middle" fill="#333" font-weight="normal" stroke="#333" stroke-width="0.12" >100</text>
<line x1="493.2" y1="368.2" x2="493.2" y2="371.2" stroke="#2a2a2a" stroke-width="1" />
<text x="493.2" y="382.3" font-size="8.7" text-anchor="middle" fill="#333" font-weight="normal" stroke="#333" stroke-width="0.12" >120</text>
<line x1="326" y1="368.2" x2="326" y2="369.9" stroke="#2a2a2a" stroke-width="1" />
<line x1="356.4" y1="368.2" x2="356.4" y2="369.9" stroke="#2a2a2a" stroke-width="1" />
<line x1="386.8" y1="368.2" x2="386.8" y2="369.9" stroke="#2a2a2a" stroke-width="1" />
<line x1="417.2" y1="368.2" x2="417.2" y2="369.9" stroke="#2a2a2a" stroke-width="1" />
<line x1="447.6" y1="368.2" x2="447.6" y2="369.9" stroke="#2a2a2a" stroke-width="1" />
<line x1="478" y1="368.2" x2="478" y2="369.9" stroke="#2a2a2a" stroke-width="1" />
<text x="381.8" y="397.6" font-size="10.5" text-anchor="start" fill="#333" font-weight="normal" textLength="48" lengthAdjust="spacingAndGlyphs" stroke="#333" stroke-width="0.12" >Dose (μg/kg)</text>
<text transform="translate(277.4,298.3) rotate(-90)" x="0" y="0" font-size="10.2" text-anchor="middle" fill="#333" textLength="75" lengthAdjust="spacingAndGlyphs" stroke="#333" stroke-width="0.12">Total blood loss (μL)</text>
<rect x="438.3" y="243.4" width="5" height="4.9" fill="#c3072d" />
<text x="447" y="248.3" font-size="7.7" text-anchor="start" fill="#333" font-weight="normal" textLength="43.6" lengthAdjust="spacingAndGlyphs" >HB+FIX-WT</text>
<rect x="438.3" y="256" width="5" height="4.9" fill="#0d4a87" />
<text x="447" y="261.1" font-size="7.7" text-anchor="start" fill="#333" font-weight="normal" textLength="49.6" lengthAdjust="spacingAndGlyphs" >HB+FIX-V16L</text>
<text x="8.3" y="424.3" font-size="11.45" fill="#111" font-weight="bold" stroke="#111" stroke-width="0.22" textLength="7.9" lengthAdjust="spacingAndGlyphs">E</text>
<rect x="52.67" y="562.7" width="5.4" height="5.4" fill="#173d70" />
<rect x="105.8" y="561.5" width="5.4" height="5.4" fill="#173d70" />
<rect x="137.05" y="561.3" width="5.4" height="5.4" fill="#173d70" />
<line x1="59.67" y1="565.54" x2="104.2" y2="565.96" stroke="#6e7684" stroke-width="1.0" />
<line x1="112.8" y1="565.9" x2="135.45" y2="565.4" stroke="#6e7684" stroke-width="1.0" />
<line x1="144.05" y1="565.3" x2="166.7" y2="565.3" stroke="#6e7684" stroke-width="1.0" />
<line x1="175.3" y1="565.19" x2="197.95" y2="564.61" stroke="#6e7684" stroke-width="1.0" />
<line x1="206.55" y1="564.62" x2="229.2" y2="565.28" stroke="#6e7684" stroke-width="1.0" />
<rect x="52.67" y="562.8" width="5.4" height="5.4" fill="#4b5564" />
<rect x="105.8" y="563.3" width="5.4" height="5.4" fill="#4b5564" />
<rect x="137.05" y="562.6" width="5.4" height="5.4" fill="#4b5564" />
<rect x="168.3" y="562.6" width="5.4" height="5.4" fill="#4b5564" />
<rect x="199.55" y="561.8" width="5.4" height="5.4" fill="#4b5564" />
<rect x="230.8" y="562.7" width="5.4" height="5.4" fill="#4b5564" />
<line x1="55.38" y1="536" x2="55.38" y2="554" stroke="#d0d0d0" stroke-width="1.3" />
<line x1="52.77" y1="536" x2="57.98" y2="536" stroke="#b0b0b0" stroke-width="1.0" />
<line x1="52.77" y1="554" x2="57.98" y2="554" stroke="#b0b0b0" stroke-width="1.0" />
<line x1="108.5" y1="507.1" x2="108.5" y2="541.8" stroke="#d0d0d0" stroke-width="1.3" />
<line x1="105.9" y1="507.1" x2="111.1" y2="507.1" stroke="#b0b0b0" stroke-width="1.0" />
<line x1="105.9" y1="541.8" x2="111.1" y2="541.8" stroke="#b0b0b0" stroke-width="1.0" />
<line x1="139.75" y1="458.4" x2="139.75" y2="506.3" stroke="#d0d0d0" stroke-width="1.3" />
<line x1="137.15" y1="458.4" x2="142.35" y2="458.4" stroke="#b0b0b0" stroke-width="1.0" />
<line x1="137.15" y1="506.3" x2="142.35" y2="506.3" stroke="#b0b0b0" stroke-width="1.0" />
<line x1="171" y1="447.5" x2="171" y2="493.4" stroke="#d0d0d0" stroke-width="1.3" />
<line x1="168.4" y1="447.5" x2="173.6" y2="447.5" stroke="#b0b0b0" stroke-width="1.0" />
<line x1="168.4" y1="493.4" x2="173.6" y2="493.4" stroke="#b0b0b0" stroke-width="1.0" />
<line x1="202.25" y1="474.3" x2="202.25" y2="511.3" stroke="#d0d0d0" stroke-width="1.3" />
<line x1="199.65" y1="474.3" x2="204.85" y2="474.3" stroke="#b0b0b0" stroke-width="1.0" />
<line x1="199.65" y1="511.3" x2="204.85" y2="511.3" stroke="#b0b0b0" stroke-width="1.0" />
<line x1="233.5" y1="494" x2="233.5" y2="522.4" stroke="#d0d0d0" stroke-width="1.3" />
<line x1="230.9" y1="494" x2="236.1" y2="494" stroke="#b0b0b0" stroke-width="1.0" />
<line x1="230.9" y1="522.4" x2="236.1" y2="522.4" stroke="#b0b0b0" stroke-width="1.0" />
<line x1="59.38" y1="543.45" x2="104.49" y2="525.95" stroke="#b0b0b0" stroke-width="1.0" />
<line x1="111.07" y1="520.96" x2="137.18" y2="486.04" stroke="#b0b0b0" stroke-width="1.0" />
<line x1="143.76" y1="481.05" x2="166.99" y2="472.05" stroke="#b0b0b0" stroke-width="1.0" />
<line x1="174.49" y1="473.01" x2="198.76" y2="490.49" stroke="#b0b0b0" stroke-width="1.0" />
<line x1="206.12" y1="494.88" x2="229.63" y2="506.32" stroke="#b0b0b0" stroke-width="1.0" />
<rect x="52.67" y="542.3" width="5.4" height="5.4" fill="#a3a3a3" />
<rect x="105.8" y="521.7" width="5.4" height="5.4" fill="#a3a3a3" />
<rect x="137.05" y="479.9" width="5.4" height="5.4" fill="#a3a3a3" />
<rect x="168.3" y="467.8" width="5.4" height="5.4" fill="#a3a3a3" />
<rect x="199.55" y="490.3" width="5.4" height="5.4" fill="#a3a3a3" />
<rect x="230.8" y="505.5" width="5.4" height="5.4" fill="#a3a3a3" />
<line x1="171" y1="559.3" x2="171" y2="564.8" stroke="#8a9ab2" stroke-width="1.3" />
<line x1="168.4" y1="559.3" x2="173.6" y2="559.3" stroke="#4a5566" stroke-width="1.0" />
<line x1="168.4" y1="564.8" x2="173.6" y2="564.8" stroke="#4a5566" stroke-width="1.0" />
<line x1="202.25" y1="554.4" x2="202.25" y2="563.2" stroke="#8a9ab2" stroke-width="1.3" />
<line x1="199.65" y1="554.4" x2="204.85" y2="554.4" stroke="#4a5566" stroke-width="1.0" />
<line x1="199.65" y1="563.2" x2="204.85" y2="563.2" stroke="#4a5566" stroke-width="1.0" />
<line x1="233.5" y1="542.3" x2="233.5" y2="560.3" stroke="#8a9ab2" stroke-width="1.3" />
<line x1="230.9" y1="542.3" x2="236.1" y2="542.3" stroke="#4a5566" stroke-width="1.0" />
<line x1="230.9" y1="560.3" x2="236.1" y2="560.3" stroke="#4a5566" stroke-width="1.0" />
<line x1="59.67" y1="565.3" x2="104.2" y2="564.3" stroke="#3f5f85" stroke-width="1.0" />
<line x1="112.8" y1="564.17" x2="135.45" y2="564.03" stroke="#3f5f85" stroke-width="1.0" />
<line x1="144.04" y1="563.73" x2="166.71" y2="562.27" stroke="#3f5f85" stroke-width="1.0" />
<line x1="175.28" y1="561.56" x2="197.97" y2="559.24" stroke="#3f5f85" stroke-width="1.0" />
<line x1="206.44" y1="557.83" x2="229.31" y2="552.57" stroke="#3f5f85" stroke-width="1.0" />
<rect x="168.3" y="559.3" width="5.4" height="5.4" fill="#173d70" />
<rect x="199.55" y="556.1" width="5.4" height="5.4" fill="#173d70" />
<rect x="230.8" y="548.9" width="5.4" height="5.4" fill="#173d70" />
<line x1="55.38" y1="553" x2="55.38" y2="559.5" stroke="#e07f98" stroke-width="1.3" />
<line x1="52.77" y1="553" x2="57.98" y2="553" stroke="#9a4a5e" stroke-width="1.0" />
<line x1="52.77" y1="559.5" x2="57.98" y2="559.5" stroke="#9a4a5e" stroke-width="1.0" />
<line x1="108.5" y1="547" x2="108.5" y2="553.2" stroke="#e07f98" stroke-width="1.3" />
<line x1="105.9" y1="547" x2="111.1" y2="547" stroke="#9a4a5e" stroke-width="1.0" />
<line x1="105.9" y1="553.2" x2="111.1" y2="553.2" stroke="#9a4a5e" stroke-width="1.0" />
<line x1="139.75" y1="547.2" x2="139.75" y2="550.8" stroke="#e07f98" stroke-width="1.3" />
<line x1="137.15" y1="547.2" x2="142.35" y2="547.2" stroke="#9a4a5e" stroke-width="1.0" />
<line x1="137.15" y1="550.8" x2="142.35" y2="550.8" stroke="#9a4a5e" stroke-width="1.0" />
<line x1="171" y1="527.8" x2="171" y2="543.6" stroke="#e07f98" stroke-width="1.3" />
<line x1="168.4" y1="527.8" x2="173.6" y2="527.8" stroke="#9a4a5e" stroke-width="1.0" />
<line x1="168.4" y1="543.6" x2="173.6" y2="543.6" stroke="#9a4a5e" stroke-width="1.0" />
<line x1="202.25" y1="536.5" x2="202.25" y2="544.6" stroke="#e07f98" stroke-width="1.3" />
<line x1="199.65" y1="536.5" x2="204.85" y2="536.5" stroke="#9a4a5e" stroke-width="1.0" />
<line x1="199.65" y1="544.6" x2="204.85" y2="544.6" stroke="#9a4a5e" stroke-width="1.0" />
<line x1="233.5" y1="508" x2="233.5" y2="538.5" stroke="#e07f98" stroke-width="1.3" />
<line x1="230.9" y1="508" x2="236.1" y2="508" stroke="#9a4a5e" stroke-width="1.0" />
<line x1="230.9" y1="538.5" x2="236.1" y2="538.5" stroke="#9a4a5e" stroke-width="1.0" />
<line x1="59.65" y1="555.71" x2="104.23" y2="550.59" stroke="#c0304e" stroke-width="1.0" />
<line x1="112.8" y1="549.95" x2="135.45" y2="549.15" stroke="#c0304e" stroke-width="1.0" />
<line x1="143.72" y1="547.34" x2="167.03" y2="537.56" stroke="#c0304e" stroke-width="1.0" />
<line x1="175.26" y1="536.5" x2="197.99" y2="539.7" stroke="#c0304e" stroke-width="1.0" />
<line x1="206.02" y1="538.24" x2="229.73" y2="525.26" stroke="#c0304e" stroke-width="1.0" />
<rect x="52.67" y="553.5" width="5.4" height="5.4" fill="#c3072d" />
<rect x="105.8" y="547.4" width="5.4" height="5.4" fill="#c3072d" />
<rect x="137.05" y="546.3" width="5.4" height="5.4" fill="#c3072d" />
<rect x="168.3" y="533.2" width="5.4" height="5.4" fill="#c3072d" />
<rect x="199.55" y="537.6" width="5.4" height="5.4" fill="#c3072d" />
<rect x="230.8" y="520.5" width="5.4" height="5.4" fill="#c3072d" />
<line x1="46" y1="431.5" x2="46" y2="570.7" stroke="#2a2a2a" stroke-width="1.35" />
<line x1="42.7" y1="570.1" x2="46" y2="570.1" stroke="#2a2a2a" stroke-width="1" />
<text x="39.2" y="573.2" font-size="8.7" text-anchor="end" fill="#333" font-weight="normal" stroke="#333" stroke-width="0.12" >0</text>
<line x1="42.7" y1="543.05" x2="46" y2="543.05" stroke="#2a2a2a" stroke-width="1" />
<text x="39.2" y="546.15" font-size="8.7" text-anchor="end" fill="#333" font-weight="normal" stroke="#333" stroke-width="0.12" >50</text>
<line x1="42.7" y1="516" x2="46" y2="516" stroke="#2a2a2a" stroke-width="1" />
<text x="39.2" y="519.1" font-size="8.7" text-anchor="end" fill="#333" font-weight="normal" stroke="#333" stroke-width="0.12" >100</text>
<line x1="42.7" y1="488.95" x2="46" y2="488.95" stroke="#2a2a2a" stroke-width="1" />
<text x="39.2" y="492.05" font-size="8.7" text-anchor="end" fill="#333" font-weight="normal" stroke="#333" stroke-width="0.12" >150</text>
<line x1="42.7" y1="461.9" x2="46" y2="461.9" stroke="#2a2a2a" stroke-width="1" />
<text x="39.2" y="465" font-size="8.7" text-anchor="end" fill="#333" font-weight="normal" stroke="#333" stroke-width="0.12" >200</text>
<line x1="42.7" y1="434.85" x2="46" y2="434.85" stroke="#2a2a2a" stroke-width="1" />
<text x="39.2" y="437.95" font-size="8.7" text-anchor="end" fill="#333" font-weight="normal" stroke="#333" stroke-width="0.12" >250</text>
<line x1="44.3" y1="556.58" x2="46" y2="556.58" stroke="#2a2a2a" stroke-width="1" />
<line x1="44.3" y1="529.52" x2="46" y2="529.52" stroke="#2a2a2a" stroke-width="1" />
<line x1="44.3" y1="502.48" x2="46" y2="502.48" stroke="#2a2a2a" stroke-width="1" />
<line x1="44.3" y1="475.43" x2="46" y2="475.43" stroke="#2a2a2a" stroke-width="1" />
<line x1="44.3" y1="448.38" x2="46" y2="448.38" stroke="#2a2a2a" stroke-width="1" />
<line x1="42.8" y1="570.1" x2="252.7" y2="570.1" stroke="#2a2a2a" stroke-width="1.4" />
<line x1="46" y1="570.1" x2="46" y2="573.1" stroke="#2a2a2a" stroke-width="1" />
<text x="46" y="584.3" font-size="8.7" text-anchor="middle" fill="#333" font-weight="normal" stroke="#333" stroke-width="0.12" >0</text>
<line x1="77.25" y1="570.1" x2="77.25" y2="573.1" stroke="#2a2a2a" stroke-width="1" />
<text x="77.25" y="584.3" font-size="8.7" text-anchor="middle" fill="#333" font-weight="normal" stroke="#333" stroke-width="0.12" >10</text>
<line x1="108.5" y1="570.1" x2="108.5" y2="573.1" stroke="#2a2a2a" stroke-width="1" />
<text x="108.5" y="584.3" font-size="8.7" text-anchor="middle" fill="#333" font-weight="normal" stroke="#333" stroke-width="0.12" >20</text>
<line x1="139.75" y1="570.1" x2="139.75" y2="573.1" stroke="#2a2a2a" stroke-width="1" />
<text x="139.75" y="584.3" font-size="8.7" text-anchor="middle" fill="#333" font-weight="normal" stroke="#333" stroke-width="0.12" >30</text>
<line x1="171" y1="570.1" x2="171" y2="573.1" stroke="#2a2a2a" stroke-width="1" />
<text x="171" y="584.3" font-size="8.7" text-anchor="middle" fill="#333" font-weight="normal" stroke="#333" stroke-width="0.12" >40</text>
<line x1="202.25" y1="570.1" x2="202.25" y2="573.1" stroke="#2a2a2a" stroke-width="1" />
<text x="202.25" y="584.3" font-size="8.7" text-anchor="middle" fill="#333" font-weight="normal" stroke="#333" stroke-width="0.12" >50</text>
<line x1="233.5" y1="570.1" x2="233.5" y2="573.1" stroke="#2a2a2a" stroke-width="1" />
<text x="233.5" y="584.3" font-size="8.7" text-anchor="middle" fill="#333" font-weight="normal" stroke="#333" stroke-width="0.12" >60</text>
<line x1="61.62" y1="570.1" x2="61.62" y2="571.8" stroke="#2a2a2a" stroke-width="1" />
<line x1="92.88" y1="570.1" x2="92.88" y2="571.8" stroke="#2a2a2a" stroke-width="1" />
<line x1="124.12" y1="570.1" x2="124.12" y2="571.8" stroke="#2a2a2a" stroke-width="1" />
<line x1="155.38" y1="570.1" x2="155.38" y2="571.8" stroke="#2a2a2a" stroke-width="1" />
<line x1="186.62" y1="570.1" x2="186.62" y2="571.8" stroke="#2a2a2a" stroke-width="1" />
<line x1="217.88" y1="570.1" x2="217.88" y2="571.8" stroke="#2a2a2a" stroke-width="1" />
<line x1="249.12" y1="570.1" x2="249.12" y2="571.8" stroke="#2a2a2a" stroke-width="1" />
<text x="128.9" y="598.6" font-size="10.4" text-anchor="start" fill="#333" font-weight="normal" textLength="41.1" lengthAdjust="spacingAndGlyphs" stroke="#333" stroke-width="0.12" >Time (min)</text>
<text transform="translate(19.1,501) rotate(-90)" x="0" y="0" font-size="10.2" text-anchor="middle" fill="#333" textLength="75" lengthAdjust="spacingAndGlyphs" stroke="#333" stroke-width="0.12">Total blood loss (μL)</text>
<rect x="55.4" y="439.9" width="5.1" height="5" fill="#4b5564" />
<text x="66.9" y="445" font-size="7.7" text-anchor="start" fill="#333" font-weight="normal" textLength="32.3" lengthAdjust="spacingAndGlyphs" >WT mice</text>
<rect x="55.4" y="450.1" width="5.1" height="5" fill="#a6a6a6" />
<text x="66.9" y="455.2" font-size="7.7" text-anchor="start" fill="#333" font-weight="normal" textLength="31.1" lengthAdjust="spacingAndGlyphs" >HB+PBS</text>
<rect x="55.4" y="460.3" width="5.1" height="5" fill="#c3072d" />
<text x="66.9" y="465.4" font-size="7.7" text-anchor="start" fill="#333" font-weight="normal" textLength="43.4" lengthAdjust="spacingAndGlyphs" >HB+FIX-WT</text>
<rect x="55.4" y="470.5" width="5.1" height="5" fill="#0d4a87" />
<text x="66.9" y="475.6" font-size="7.7" text-anchor="start" fill="#333" font-weight="normal" textLength="49.3" lengthAdjust="spacingAndGlyphs" >HB+FIX-V16L</text>
<text x="211" y="445.2" font-size="8.7" text-anchor="start" fill="#333" font-weight="normal" textLength="31.9" lengthAdjust="spacingAndGlyphs" stroke="#333" stroke-width="0.12" >75 μg/kg</text>
<text x="269.4" y="424.2" font-size="11.45" fill="#111" font-weight="bold" stroke="#111" stroke-width="0.22" textLength="7.6" lengthAdjust="spacingAndGlyphs">F</text>
<line x1="318.99" y1="565.17" x2="363.6" y2="564.83" stroke="#6e7684" stroke-width="1.0" />
<line x1="372.2" y1="564.77" x2="394.9" y2="564.63" stroke="#6e7684" stroke-width="1.0" />
<line x1="403.5" y1="564.6" x2="426.2" y2="564.6" stroke="#6e7684" stroke-width="1.0" />
<line x1="434.8" y1="564.63" x2="457.5" y2="564.77" stroke="#6e7684" stroke-width="1.0" />
<line x1="466.1" y1="564.8" x2="488.8" y2="564.8" stroke="#6e7684" stroke-width="1.0" />
<rect x="311.99" y="562.5" width="5.4" height="5.4" fill="#4b5564" />
<rect x="365.2" y="562.1" width="5.4" height="5.4" fill="#4b5564" />
<rect x="396.5" y="561.9" width="5.4" height="5.4" fill="#4b5564" />
<rect x="427.8" y="561.9" width="5.4" height="5.4" fill="#4b5564" />
<rect x="459.1" y="562.1" width="5.4" height="5.4" fill="#4b5564" />
<rect x="490.4" y="562.1" width="5.4" height="5.4" fill="#4b5564" />
<line x1="314.69" y1="539" x2="314.69" y2="549" stroke="#d0d0d0" stroke-width="1.3" />
<line x1="312.09" y1="539" x2="317.29" y2="539" stroke="#b0b0b0" stroke-width="1.0" />
<line x1="312.09" y1="549" x2="317.29" y2="549" stroke="#b0b0b0" stroke-width="1.0" />
<line x1="367.9" y1="506.4" x2="367.9" y2="541.4" stroke="#d0d0d0" stroke-width="1.3" />
<line x1="365.3" y1="506.4" x2="370.5" y2="506.4" stroke="#b0b0b0" stroke-width="1.0" />
<line x1="365.3" y1="541.4" x2="370.5" y2="541.4" stroke="#b0b0b0" stroke-width="1.0" />
<line x1="399.2" y1="457.3" x2="399.2" y2="506" stroke="#d0d0d0" stroke-width="1.3" />
<line x1="396.6" y1="457.3" x2="401.8" y2="457.3" stroke="#b0b0b0" stroke-width="1.0" />
<line x1="396.6" y1="506" x2="401.8" y2="506" stroke="#b0b0b0" stroke-width="1.0" />
<line x1="430.5" y1="446.5" x2="430.5" y2="492.7" stroke="#d0d0d0" stroke-width="1.3" />
<line x1="427.9" y1="446.5" x2="433.1" y2="446.5" stroke="#b0b0b0" stroke-width="1.0" />
<line x1="427.9" y1="492.7" x2="433.1" y2="492.7" stroke="#b0b0b0" stroke-width="1.0" />
<line x1="461.8" y1="473.4" x2="461.8" y2="512" stroke="#d0d0d0" stroke-width="1.3" />
<line x1="459.2" y1="473.4" x2="464.4" y2="473.4" stroke="#b0b0b0" stroke-width="1.0" />
<line x1="459.2" y1="512" x2="464.4" y2="512" stroke="#b0b0b0" stroke-width="1.0" />
<line x1="493.1" y1="493.5" x2="493.1" y2="521.3" stroke="#d0d0d0" stroke-width="1.3" />
<line x1="490.5" y1="493.5" x2="495.7" y2="493.5" stroke="#b0b0b0" stroke-width="1.0" />
<line x1="490.5" y1="521.3" x2="495.7" y2="521.3" stroke="#b0b0b0" stroke-width="1.0" />
<line x1="318.71" y1="542.57" x2="363.88" y2="525.43" stroke="#b0b0b0" stroke-width="1.0" />
<line x1="370.46" y1="520.44" x2="396.64" y2="485.06" stroke="#b0b0b0" stroke-width="1.0" />
<line x1="403.2" y1="480.03" x2="426.5" y2="470.87" stroke="#b0b0b0" stroke-width="1.0" />
<line x1="433.94" y1="471.87" x2="458.36" y2="490.13" stroke="#b0b0b0" stroke-width="1.0" />
<line x1="465.69" y1="494.53" x2="489.21" y2="505.57" stroke="#b0b0b0" stroke-width="1.0" />
<rect x="311.99" y="541.4" width="5.4" height="5.4" fill="#a3a3a3" />
<rect x="365.2" y="521.2" width="5.4" height="5.4" fill="#a3a3a3" />
<rect x="396.5" y="478.9" width="5.4" height="5.4" fill="#a3a3a3" />
<rect x="427.8" y="466.6" width="5.4" height="5.4" fill="#a3a3a3" />
<rect x="459.1" y="490" width="5.4" height="5.4" fill="#a3a3a3" />
<rect x="490.4" y="504.7" width="5.4" height="5.4" fill="#a3a3a3" />
<line x1="314.69" y1="552.2" x2="314.69" y2="562.2" stroke="#8a9ab2" stroke-width="1.3" />
<line x1="312.09" y1="552.2" x2="317.29" y2="552.2" stroke="#4a5566" stroke-width="1.0" />
<line x1="312.09" y1="562.2" x2="317.29" y2="562.2" stroke="#4a5566" stroke-width="1.0" />
<line x1="367.9" y1="549.5" x2="367.9" y2="558" stroke="#8a9ab2" stroke-width="1.3" />
<line x1="365.3" y1="549.5" x2="370.5" y2="549.5" stroke="#4a5566" stroke-width="1.0" />
<line x1="365.3" y1="558" x2="370.5" y2="558" stroke="#4a5566" stroke-width="1.0" />
<line x1="399.2" y1="547" x2="399.2" y2="554.8" stroke="#8a9ab2" stroke-width="1.3" />
<line x1="396.6" y1="547" x2="401.8" y2="547" stroke="#4a5566" stroke-width="1.0" />
<line x1="396.6" y1="554.8" x2="401.8" y2="554.8" stroke="#4a5566" stroke-width="1.0" />
<line x1="430.5" y1="535.3" x2="430.5" y2="545.1" stroke="#8a9ab2" stroke-width="1.3" />
<line x1="427.9" y1="535.3" x2="433.1" y2="535.3" stroke="#4a5566" stroke-width="1.0" />
<line x1="427.9" y1="545.1" x2="433.1" y2="545.1" stroke="#4a5566" stroke-width="1.0" />
<line x1="461.8" y1="510" x2="461.8" y2="528.4" stroke="#8a9ab2" stroke-width="1.3" />
<line x1="459.2" y1="510" x2="464.4" y2="510" stroke="#4a5566" stroke-width="1.0" />
<line x1="459.2" y1="528.4" x2="464.4" y2="528.4" stroke="#4a5566" stroke-width="1.0" />
<line x1="493.1" y1="513" x2="493.1" y2="524" stroke="#8a9ab2" stroke-width="1.3" />
<line x1="490.5" y1="513" x2="495.7" y2="513" stroke="#4a5566" stroke-width="1.0" />
<line x1="490.5" y1="524" x2="495.7" y2="524" stroke="#4a5566" stroke-width="1.0" />
<line x1="318.98" y1="556.92" x2="363.61" y2="553.98" stroke="#3f5f85" stroke-width="1.0" />
<line x1="372.18" y1="553.32" x2="394.92" y2="551.28" stroke="#3f5f85" stroke-width="1.0" />
<line x1="403.26" y1="549.5" x2="426.44" y2="541.5" stroke="#3f5f85" stroke-width="1.0" />
<line x1="434.08" y1="537.71" x2="458.22" y2="521.59" stroke="#3f5f85" stroke-width="1.0" />
<line x1="466.1" y1="519.1" x2="488.8" y2="518.6" stroke="#3f5f85" stroke-width="1.0" />
<rect x="311.99" y="554.5" width="5.4" height="5.4" fill="#173d70" />
<rect x="365.2" y="551" width="5.4" height="5.4" fill="#173d70" />
<rect x="396.5" y="548.2" width="5.4" height="5.4" fill="#173d70" />
<rect x="427.8" y="537.4" width="5.4" height="5.4" fill="#173d70" />
<rect x="459.1" y="516.5" width="5.4" height="5.4" fill="#173d70" />
<rect x="490.4" y="515.8" width="5.4" height="5.4" fill="#173d70" />
<line x1="314.69" y1="529.6" x2="314.69" y2="538.7" stroke="#e07f98" stroke-width="1.3" />
<line x1="312.09" y1="529.6" x2="317.29" y2="529.6" stroke="#9a4a5e" stroke-width="1.0" />
<line x1="312.09" y1="538.7" x2="317.29" y2="538.7" stroke="#9a4a5e" stroke-width="1.0" />
<line x1="367.9" y1="518.6" x2="367.9" y2="536" stroke="#e07f98" stroke-width="1.3" />
<line x1="365.3" y1="518.6" x2="370.5" y2="518.6" stroke="#9a4a5e" stroke-width="1.0" />
<line x1="365.3" y1="536" x2="370.5" y2="536" stroke="#9a4a5e" stroke-width="1.0" />
<line x1="399.2" y1="468.8" x2="399.2" y2="532.1" stroke="#e07f98" stroke-width="1.3" />
<line x1="396.6" y1="468.8" x2="401.8" y2="468.8" stroke="#9a4a5e" stroke-width="1.0" />
<line x1="396.6" y1="532.1" x2="401.8" y2="532.1" stroke="#9a4a5e" stroke-width="1.0" />
<line x1="430.5" y1="449.8" x2="430.5" y2="510.4" stroke="#e07f98" stroke-width="1.3" />
<line x1="427.9" y1="449.8" x2="433.1" y2="449.8" stroke="#9a4a5e" stroke-width="1.0" />
<line x1="427.9" y1="510.4" x2="433.1" y2="510.4" stroke="#9a4a5e" stroke-width="1.0" />
<line x1="461.8" y1="506" x2="461.8" y2="509.6" stroke="#e07f98" stroke-width="1.3" />
<line x1="459.2" y1="506" x2="464.4" y2="506" stroke="#9a4a5e" stroke-width="1.0" />
<line x1="459.2" y1="509.6" x2="464.4" y2="509.6" stroke="#9a4a5e" stroke-width="1.0" />
<line x1="493.1" y1="505.7" x2="493.1" y2="526.5" stroke="#e07f98" stroke-width="1.3" />
<line x1="490.5" y1="505.7" x2="495.7" y2="505.7" stroke="#9a4a5e" stroke-width="1.0" />
<line x1="490.5" y1="526.5" x2="495.7" y2="526.5" stroke="#9a4a5e" stroke-width="1.0" />
<line x1="318.95" y1="533.62" x2="363.64" y2="527.58" stroke="#c0304e" stroke-width="1.0" />
<line x1="371.19" y1="524.23" x2="395.91" y2="503.47" stroke="#c0304e" stroke-width="1.0" />
<line x1="402.79" y1="498.34" x2="426.91" y2="482.46" stroke="#c0304e" stroke-width="1.0" />
<line x1="433.72" y1="482.95" x2="458.58" y2="504.95" stroke="#c0304e" stroke-width="1.0" />
<line x1="465.96" y1="508.9" x2="488.94" y2="515" stroke="#c0304e" stroke-width="1.0" />
<rect x="311.99" y="531.5" width="5.4" height="5.4" fill="#c3072d" />
<rect x="365.2" y="524.3" width="5.4" height="5.4" fill="#c3072d" />
<rect x="396.5" y="498" width="5.4" height="5.4" fill="#c3072d" />
<rect x="427.8" y="477.4" width="5.4" height="5.4" fill="#c3072d" />
<rect x="459.1" y="505.1" width="5.4" height="5.4" fill="#c3072d" />
<rect x="490.4" y="513.4" width="5.4" height="5.4" fill="#c3072d" />
<line x1="305.3" y1="431.5" x2="305.3" y2="570.7" stroke="#2a2a2a" stroke-width="1.35" />
<line x1="302" y1="570.1" x2="305.3" y2="570.1" stroke="#2a2a2a" stroke-width="1" />
<text x="298.5" y="573.2" font-size="8.7" text-anchor="end" fill="#333" font-weight="normal" stroke="#333" stroke-width="0.12" >0</text>
<line x1="302" y1="543.05" x2="305.3" y2="543.05" stroke="#2a2a2a" stroke-width="1" />
<text x="298.5" y="546.15" font-size="8.7" text-anchor="end" fill="#333" font-weight="normal" stroke="#333" stroke-width="0.12" >50</text>
<line x1="302" y1="516" x2="305.3" y2="516" stroke="#2a2a2a" stroke-width="1" />
<text x="298.5" y="519.1" font-size="8.7" text-anchor="end" fill="#333" font-weight="normal" stroke="#333" stroke-width="0.12" >100</text>
<line x1="302" y1="488.95" x2="305.3" y2="488.95" stroke="#2a2a2a" stroke-width="1" />
<text x="298.5" y="492.05" font-size="8.7" text-anchor="end" fill="#333" font-weight="normal" stroke="#333" stroke-width="0.12" >150</text>
<line x1="302" y1="461.9" x2="305.3" y2="461.9" stroke="#2a2a2a" stroke-width="1" />
<text x="298.5" y="465" font-size="8.7" text-anchor="end" fill="#333" font-weight="normal" stroke="#333" stroke-width="0.12" >200</text>
<line x1="302" y1="434.85" x2="305.3" y2="434.85" stroke="#2a2a2a" stroke-width="1" />
<text x="298.5" y="437.95" font-size="8.7" text-anchor="end" fill="#333" font-weight="normal" stroke="#333" stroke-width="0.12" >250</text>
<line x1="303.6" y1="556.58" x2="305.3" y2="556.58" stroke="#2a2a2a" stroke-width="1" />
<line x1="303.6" y1="529.52" x2="305.3" y2="529.52" stroke="#2a2a2a" stroke-width="1" />
<line x1="303.6" y1="502.48" x2="305.3" y2="502.48" stroke="#2a2a2a" stroke-width="1" />
<line x1="303.6" y1="475.43" x2="305.3" y2="475.43" stroke="#2a2a2a" stroke-width="1" />
<line x1="303.6" y1="448.38" x2="305.3" y2="448.38" stroke="#2a2a2a" stroke-width="1" />
<line x1="302.1" y1="570.1" x2="512" y2="570.1" stroke="#2a2a2a" stroke-width="1.4" />
<line x1="305.3" y1="570.1" x2="305.3" y2="573.1" stroke="#2a2a2a" stroke-width="1" />
<text x="305.3" y="584.3" font-size="8.7" text-anchor="middle" fill="#333" font-weight="normal" stroke="#333" stroke-width="0.12" >0</text>
<line x1="336.6" y1="570.1" x2="336.6" y2="573.1" stroke="#2a2a2a" stroke-width="1" />
<text x="336.6" y="584.3" font-size="8.7" text-anchor="middle" fill="#333" font-weight="normal" stroke="#333" stroke-width="0.12" >10</text>
<line x1="367.9" y1="570.1" x2="367.9" y2="573.1" stroke="#2a2a2a" stroke-width="1" />
<text x="367.9" y="584.3" font-size="8.7" text-anchor="middle" fill="#333" font-weight="normal" stroke="#333" stroke-width="0.12" >20</text>
<line x1="399.2" y1="570.1" x2="399.2" y2="573.1" stroke="#2a2a2a" stroke-width="1" />
<text x="399.2" y="584.3" font-size="8.7" text-anchor="middle" fill="#333" font-weight="normal" stroke="#333" stroke-width="0.12" >30</text>
<line x1="430.5" y1="570.1" x2="430.5" y2="573.1" stroke="#2a2a2a" stroke-width="1" />
<text x="430.5" y="584.3" font-size="8.7" text-anchor="middle" fill="#333" font-weight="normal" stroke="#333" stroke-width="0.12" >40</text>
<line x1="461.8" y1="570.1" x2="461.8" y2="573.1" stroke="#2a2a2a" stroke-width="1" />
<text x="461.8" y="584.3" font-size="8.7" text-anchor="middle" fill="#333" font-weight="normal" stroke="#333" stroke-width="0.12" >50</text>
<line x1="493.1" y1="570.1" x2="493.1" y2="573.1" stroke="#2a2a2a" stroke-width="1" />
<text x="493.1" y="584.3" font-size="8.7" text-anchor="middle" fill="#333" font-weight="normal" stroke="#333" stroke-width="0.12" >60</text>
<line x1="320.95" y1="570.1" x2="320.95" y2="571.8" stroke="#2a2a2a" stroke-width="1" />
<line x1="352.25" y1="570.1" x2="352.25" y2="571.8" stroke="#2a2a2a" stroke-width="1" />
<line x1="383.55" y1="570.1" x2="383.55" y2="571.8" stroke="#2a2a2a" stroke-width="1" />
<line x1="414.85" y1="570.1" x2="414.85" y2="571.8" stroke="#2a2a2a" stroke-width="1" />
<line x1="446.15" y1="570.1" x2="446.15" y2="571.8" stroke="#2a2a2a" stroke-width="1" />
<line x1="477.45" y1="570.1" x2="477.45" y2="571.8" stroke="#2a2a2a" stroke-width="1" />
<line x1="508.75" y1="570.1" x2="508.75" y2="571.8" stroke="#2a2a2a" stroke-width="1" />
<text x="388.4" y="598.6" font-size="10.4" text-anchor="start" fill="#333" font-weight="normal" textLength="41.1" lengthAdjust="spacingAndGlyphs" stroke="#333" stroke-width="0.12" >Time (min)</text>
<text transform="translate(278.6,501) rotate(-90)" x="0" y="0" font-size="10.2" text-anchor="middle" fill="#333" textLength="75" lengthAdjust="spacingAndGlyphs" stroke="#333" stroke-width="0.12">Total blood loss (μL)</text>
<rect x="314.9" y="439.9" width="5.1" height="5" fill="#4b5564" />
<text x="326.4" y="445" font-size="7.7" text-anchor="start" fill="#333" font-weight="normal" textLength="32.3" lengthAdjust="spacingAndGlyphs" >WT mice</text>
<rect x="314.9" y="450.1" width="5.1" height="5" fill="#a6a6a6" />
<text x="326.4" y="455.2" font-size="7.7" text-anchor="start" fill="#333" font-weight="normal" textLength="31.1" lengthAdjust="spacingAndGlyphs" >HB+PBS</text>
<rect x="314.9" y="460.3" width="5.1" height="5" fill="#c3072d" />
<text x="326.4" y="465.4" font-size="7.7" text-anchor="start" fill="#333" font-weight="normal" textLength="43.4" lengthAdjust="spacingAndGlyphs" >HB+FIX-WT</text>
<rect x="314.9" y="470.5" width="5.1" height="5" fill="#0d4a87" />
<text x="326.4" y="475.6" font-size="7.7" text-anchor="start" fill="#333" font-weight="normal" textLength="49.3" lengthAdjust="spacingAndGlyphs" >HB+FIX-V16L</text>
<text x="469.8" y="445.2" font-size="8.7" text-anchor="start" fill="#333" font-weight="normal" textLength="33.2" lengthAdjust="spacingAndGlyphs" stroke="#333" stroke-width="0.12" >50 μg/kg</text>
<rect x="0.5" y="0.5" width="519" height="608" fill="none" stroke="#3a3a3a" stroke-width="1.1"/>
</svg></body></html>
